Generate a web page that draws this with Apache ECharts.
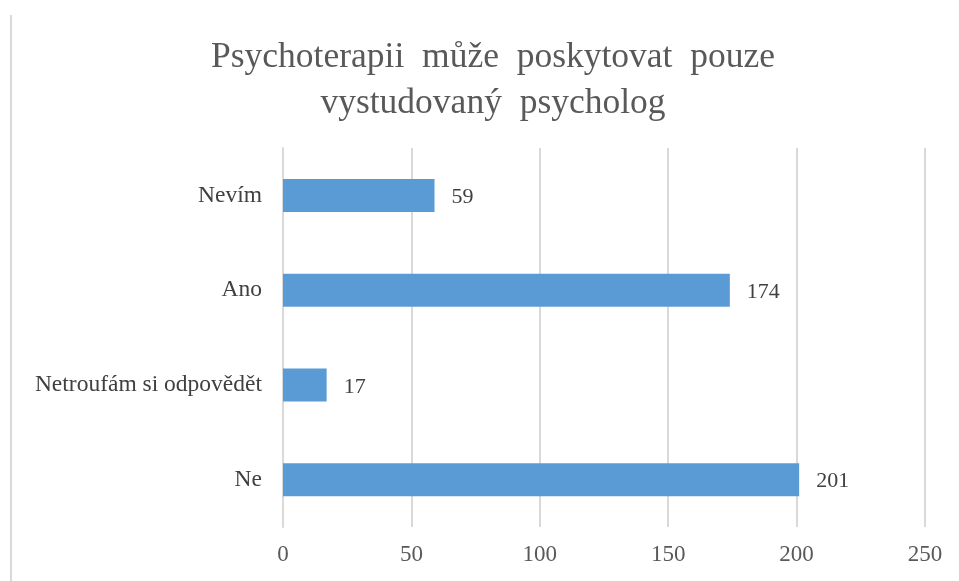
<!DOCTYPE html>
<html><head><meta charset="utf-8">
<script src="https://cdn.jsdelivr.net/npm/echarts@6/dist/echarts.min.js"></script>
<style>html,body{margin:0;padding:0;background:#fff}#c{width:959px;height:581px}</style>
</head><body><div id="c"></div>
<script>
const categories = ['Ne', 'Netroufám si odpovědět', 'Ano', 'Nevím'];
const values = [201, 17, 174, 59];
const titleText = 'Psychoterapii  může  poskytovat  pouze\nvystudovaný  psycholog';

const chart = echarts.init(document.getElementById('c'));
const serif = 'Liberation Serif';
chart.setOption({
  animation: false,
  backgroundColor: '#fff',
  title: {
    text: titleText,
    left: 488, top: 30, textAlign: 'center',
    textStyle: {fontFamily: serif, fontSize: 35.5, fontWeight: 'normal', color: '#595959', lineHeight: 46}
  },
  graphic: [{type: 'rect', shape: {x: 10, y: 15, width: 2, height: 566}, style: {fill: '#d9d9d9'}}],
  grid: {left: 283, right: 34, top: 148, bottom: 54, containLabel: false},
  xAxis: {
    type: 'value', min: 0, max: 250, interval: 50,
    axisLine: {show: false}, axisTick: {show: false},
    splitLine: {lineStyle: {color: '#d9d9d9', width: 2}},
    axisLabel: {fontFamily: serif, fontSize: 23, color: '#595959', margin: 16}
  },
  yAxis: {
    type: 'category', data: categories,
    axisLine: {show: true, lineStyle: {color: '#d9d9d9', width: 2}}, axisTick: {show: false},
    axisLabel: {fontFamily: serif, fontSize: 23.5, color: '#404040', margin: 21}
  },
  series: [{
    type: 'bar', data: values, barWidth: 33,
    itemStyle: {color: '#5b9bd5'},
    label: {show: true, position: 'right', distance: 17, offset: [0, 2], fontFamily: serif, fontSize: 22, color: '#404040'}
  }]
});
</script></body></html>
